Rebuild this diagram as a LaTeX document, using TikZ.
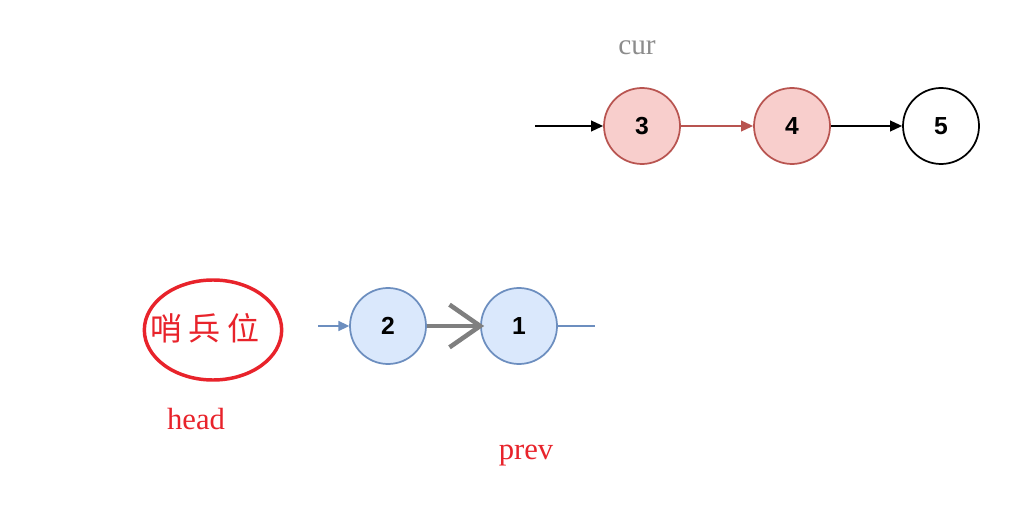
\documentclass[tikz,border=0pt]{standalone}
\usepackage{fontspec}
\setmainfont{Liberation Serif}
\setsansfont{Liberation Sans}
\newfontfamily\cjk{Noto Sans CJK SC}
\usetikzlibrary{arrows.meta,shapes.geometric}
\definecolor{redfill}{HTML}{F8CECC}
\definecolor{redline}{HTML}{B85450}
\definecolor{bluefill}{HTML}{DAE8FC}
\definecolor{blueline}{HTML}{6C8EBF}
\definecolor{mark}{HTML}{E8232B}
\definecolor{grayarrow}{HTML}{7F7F7F}
\tikzset{
  listnode/.style={circle, minimum size=57pt, inner sep=0pt, line width=1.3pt,
    font=\sffamily\bfseries\fontsize{18.5}{22}\selectfont},
  rednode/.style={listnode, draw=redline, fill=redfill},
  bluenode/.style={listnode, draw=blueline, fill=bluefill},
  plainnode/.style={listnode, draw=black, fill=white},
  conn/.style={line width=1.3pt, -{Triangle[length=9pt,width=8pt]}},
  marktext/.style={text=mark, font=\fontsize{23}{26}\selectfont, inner sep=0pt},
}
\begin{document}
\begin{tikzpicture}[x=0.75pt,y=-0.75pt]
\useasboundingbox (0,0) rectangle (1012,505);
% top list
\node[rednode] (n3) at (642,126) {3};
\node[rednode] (n4) at (792,126) {4};
\node[plainnode] (n5) at (941,126) {5};
\coordinate (in3) at (535,126);
\draw[conn, black] (in3) -- (n3);
\draw[conn, redline] (n3) -- (n4);
\draw[conn, black] (n4) -- (n5);
\node[text=grayarrow!90, font=\fontsize{22}{26}\selectfont, inner sep=0pt] (cur) at (637,48) {cur};
% bottom list
\node[draw=mark, line width=2.6pt, ellipse, minimum width=103pt, minimum height=75pt, inner sep=0pt] (sent) at (213,330) {};
\node[text=mark, font=\cjk\fontsize{24}{28}\selectfont, inner sep=0pt] (senttext) at (205,328) {哨\hspace{5pt}兵\hspace{5pt}位};
\node[bluenode] (n2) at (388,326) {2};
\node[bluenode] (n1) at (519,326) {1};
\coordinate (in2) at (318,326);
\coordinate (out1) at (595,326);
\draw[blueline, line width=1.3pt, -{Triangle[length=8pt,width=7.5pt]}] (in2) -- (n2);
\draw[line width=1.3pt, blueline] (n1) -- (out1);
\draw[line width=3.4pt, grayarrow, shorten >=-3pt, -{Straight Barb[length=23pt,width=32pt,line width=3.4pt]}] (n2) -- (n1);
\node[marktext] (head) at (196,419) {head};
\node[marktext] (prev) at (526,456) {prev};
\end{tikzpicture}
\end{document}
